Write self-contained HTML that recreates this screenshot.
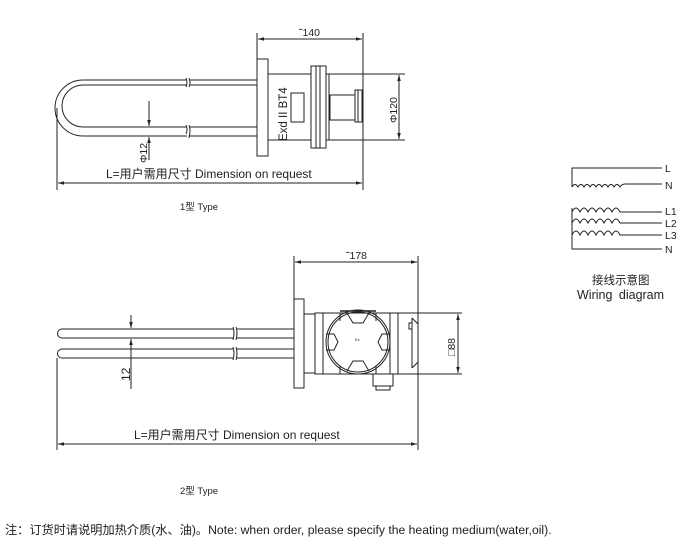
<!DOCTYPE html>
<html><head><meta charset="utf-8"><style>
body{margin:0;background:#fff;width:684px;height:547px;overflow:hidden}
svg{display:block}
text{font-family:"Liberation Sans","Noto Sans CJK SC",sans-serif;fill:#222}
</style></head><body>
<svg width="684" height="547" viewBox="0 0 684 547" xmlns="http://www.w3.org/2000/svg">
<defs><marker id="a" viewBox="0 0 10 10" refX="10" refY="5" markerWidth="6" markerHeight="6" orient="auto-start-reverse"><path d="M0,2 L10,5 L0,8z" fill="#222"/></marker></defs>
<g stroke="#222" fill="none" stroke-width="1">
<!-- Type 1 -->
<line x1="257" y1="33" x2="257" y2="59"/><line x1="363" y1="33" x2="363" y2="190"/>
<line x1="258" y1="39" x2="362" y2="39" marker-start="url(#a)" marker-end="url(#a)"/>
<rect x="257" y="59" width="11" height="97" fill="#fff"/>
<line x1="268" y1="74" x2="405" y2="74"/><line x1="268" y1="140" x2="405" y2="140"/>
<line x1="329" y1="74" x2="329" y2="140"/>
<rect x="291" y="93" width="13" height="29"/>
<rect x="311" y="66" width="15" height="82" fill="#fff"/>
<line x1="316" y1="66" x2="316" y2="148"/><line x1="320" y1="66" x2="320" y2="148"/>
<rect x="330" y="95" width="25" height="25"/>
<rect x="355" y="90" width="7" height="32"/>
<line x1="358" y1="90" x2="358" y2="122"/>
<line x1="399" y1="75" x2="399" y2="139" marker-start="url(#a)" marker-end="url(#a)"/>
<!-- U tube -->
<path d="M187,80 H83 A28,28 0 0 0 83,136 H187"/>
<path d="M187,85 H83 A21,21 0 0 0 83,127 H187"/>
<path d="M190,80 H257 M190,85 H257 M190,127 H257 M190,136 H257"/>
<path d="M186,78 q2,5 0,9 M189,78 q2,5 0,9 M186,125 q2,5 0,9 M189,125 q2,5 0,13"/>
<line x1="149" y1="101" x2="149" y2="126" marker-end="url(#a)"/>
<line x1="149" y1="160" x2="149" y2="137" marker-end="url(#a)"/>
<line x1="57" y1="108" x2="57" y2="190"/>
<line x1="58" y1="183" x2="362" y2="183" marker-start="url(#a)" marker-end="url(#a)"/>
<!-- Type 2 -->
<line x1="294" y1="256" x2="294" y2="299"/><line x1="418" y1="256" x2="418" y2="450"/>
<line x1="295" y1="262" x2="417" y2="262" marker-start="url(#a)" marker-end="url(#a)"/>
<rect x="294" y="299" width="10" height="89"/>
<rect x="304" y="314" width="11" height="59"/>
<rect x="315" y="313" width="83" height="61"/>
<line x1="323" y1="313" x2="323" y2="374"/><line x1="390" y1="313" x2="390" y2="374"/>
<path d="M340,313 v8 M376,313 v8 M340,374 v-8 M376,374 v-8"/>
<line x1="340" y1="311" x2="376" y2="311" stroke-width="1.5"/>
<circle cx="358" cy="342" r="32"/><circle cx="358" cy="342" r="30"/>
<path d="M347,313 l6,10 h10 l6,-10 M347,371 l6,-10 h10 l6,10 M326,334 h8 l4,8 -4,8 h-8 M390,334 h-8 l-4,8 4,8 h8"/>
<rect x="398" y="313" width="20" height="61"/>
<path d="M412,318 l6,6 M412,368 l6,-6 M412,318 v50"/>
<rect x="409" y="323" width="3" height="6"/>
<line x1="418" y1="313" x2="462" y2="313"/><line x1="418" y1="374" x2="462" y2="374"/>
<line x1="458" y1="314" x2="458" y2="373" marker-start="url(#a)" marker-end="url(#a)"/>
<path d="M373,374 v12 h20 v-12 M376,386 v4 h14 v-4"/>
<path d="M233,329 H62 a4.5,4.5 0 0 0 0,9 H233 M237,329 H294 M237,338 H294"/>
<path d="M233,349 H62 a4.5,4.5 0 0 0 0,9 H233 M237,349 H294 M237,358 H294"/>
<path d="M233,327 q2,6 0,13 M236,327 q2,6 0,13 M233,347 q2,6 0,13 M236,347 q2,6 0,13"/>
<line x1="131" y1="315" x2="131" y2="328" marker-end="url(#a)"/>
<line x1="131" y1="389" x2="131" y2="339" marker-end="url(#a)"/>
<line x1="57" y1="358" x2="57" y2="450"/>
<line x1="58" y1="444" x2="417" y2="444" marker-start="url(#a)" marker-end="url(#a)"/>
<!-- wiring -->
<path d="M662,168 H572 V187"/>
<path d="M572,187 q3,-5 6,0 q3,-5 6,0 q3,-5 6,0 q3,-5 6,0 q3,-5 6,0 q3,-5 6,0 q3,-5 6,0 q3,-5 6,0 q2,-3 5,-3 H662"/>
<path d="M572,208 V249 H662"/>
<path d="M572,212 q4,-8 8,0 q4,-8 8,0 q4,-8 8,0 q4,-8 8,0 q4,-8 8,0 q4,-8 8,0 q3,0 4,0 H662"/>
<path d="M572,223 q4,-8 8,0 q4,-8 8,0 q4,-8 8,0 q4,-8 8,0 q4,-8 8,0 q4,-8 8,0 q3,0 4,0 H662"/>
<path d="M572,235 q4,-8 8,0 q4,-8 8,0 q4,-8 8,0 q4,-8 8,0 q4,-8 8,0 q4,-8 8,0 q3,0 4,0 H662"/>
</g>
<g font-size="10.5">
<text x="299" y="36">˜140</text>
<text x="346" y="259">˜178</text>
<text transform="translate(287,141) rotate(-90)" font-size="11.5">Exd II BT4</text>
<text transform="translate(397,123) rotate(-90)">Φ120</text>
<text transform="translate(147,163) rotate(-90)">Φ12</text>
<text transform="translate(130,381) rotate(-90)" font-size="12">12</text>
<text transform="translate(455,356) rotate(-90)">□88</text>
<text x="355" y="341" font-size="4">Ex</text>
<text x="106" y="178" font-size="12">L=用户需用尺寸 Dimension on request</text>
<text x="134" y="439" font-size="12">L=用户需用尺寸 Dimension on request</text>
<text x="180" y="210" font-size="9.5">1型 Type</text>
<text x="180" y="494" font-size="9.5">2型 Type</text>
<text x="665" y="172">L</text><text x="665" y="189">N</text>
<text x="665" y="215">L1</text><text x="665" y="227">L2</text><text x="665" y="239">L3</text><text x="665" y="253">N</text>
<text x="592" y="284" font-size="11.5">接线示意图</text>
<text x="577" y="299" font-size="12.5" word-spacing="3">Wiring diagram</text>
<text x="5" y="534" font-size="12.2">注：订货时请说明加热介质(水、油)。Note: when order, please specify the heating medium(water,oil).</text>
</g>
</svg>
</body></html>
